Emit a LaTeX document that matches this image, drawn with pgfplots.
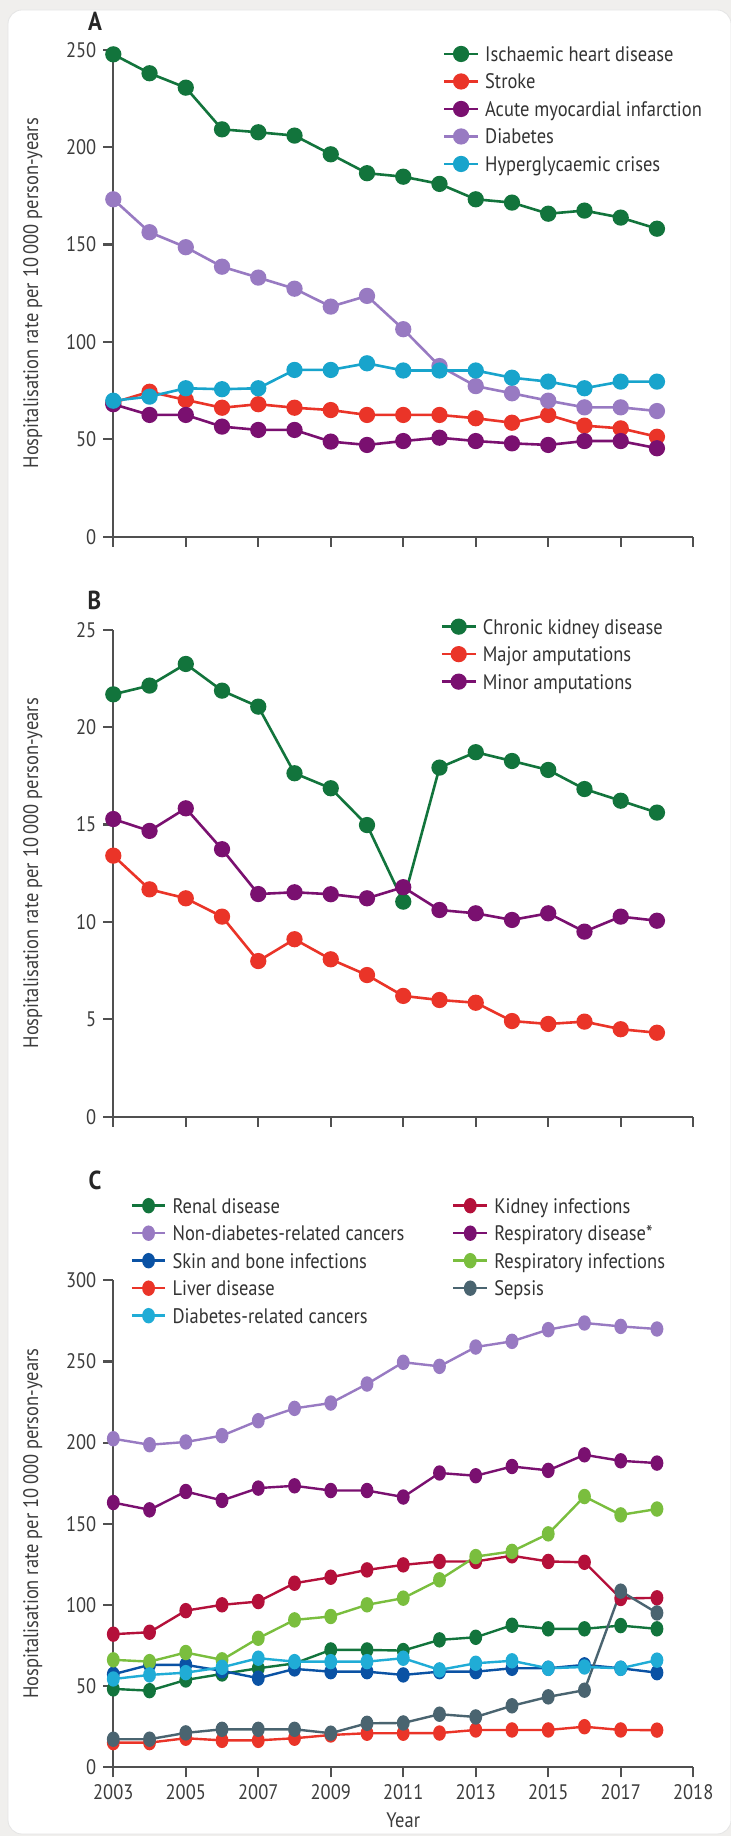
\documentclass[border=0pt]{standalone}
\usepackage{pgfplots}
\usepackage{pgfplotstable}
\pgfplotsset{compat=1.18}
\usepackage{fontspec}
\setmainfont{PT Sans}[FakeStretch=0.88]

\definecolor{bg}{RGB}{240,239,237}
\definecolor{axisgray}{RGB}{80,80,80}
\definecolor{labgray}{RGB}{60,60,60}
\definecolor{cGreen}{RGB}{18,116,60}
\definecolor{cRed}{RGB}{234,52,40}
\definecolor{cPurple}{RGB}{122,16,112}
\definecolor{cLav}{RGB}{152,122,194}
\definecolor{cCyan}{RGB}{24,164,204}
\definecolor{cBlue}{RGB}{10,82,164}
\definecolor{cCyan2}{RGB}{32,172,214}
\definecolor{cCrimson}{RGB}{180,16,58}
\definecolor{cLGreen}{RGB}{122,190,62}
\definecolor{cSlate}{RGB}{74,100,112}

\pgfplotstableread{
year ihd stroke ami diab hyper
2003 247.6 68.8 68.0 173.2 69.8
2004 237.9 74.4 62.5 156.3 71.9
2005 230.5 70.2 62.5 148.6 76.2
2006 209.1 66.2 56.5 138.6 75.7
2007 207.6 68.0 54.8 133.0 76.2
2008 205.9 66.2 54.8 127.3 85.6
2009 196.3 65.0 48.8 118.1 85.6
2010 186.6 62.5 47.1 123.6 89.0
2011 184.8 62.5 49.1 106.5 85.3
2012 181.1 62.5 50.8 87.6 85.3
2013 173.2 60.8 49.1 77.3 85.3
2014 171.5 58.5 47.9 73.6 81.6
2015 165.8 62.5 47.1 69.8 79.6
2016 167.4 57.0 49.1 66.4 76.2
2017 163.8 55.6 49.1 66.4 79.6
2018 158.1 51.3 45.4 64.5 79.6
}\tabA

\pgfplotstableread{
year ckd major minor
2003 21.68 13.40 15.28
2004 22.13 11.67 14.67
2005 23.24 11.21 15.83
2006 21.87 10.27 13.73
2007 21.05 7.99 11.43
2008 17.63 9.11 11.52
2009 16.86 8.08 11.42
2010 14.97 7.27 11.21
2011 11.04 6.20 11.78
2012 17.92 5.99 10.61
2013 18.71 5.85 10.44
2014 18.26 4.91 10.10
2015 17.80 4.76 10.44
2016 16.82 4.88 9.50
2017 16.22 4.49 10.27
2018 15.61 4.31 10.06
}\tabB

\pgfplotstableread{
year renal kidney nondiab respdis skin respinf liver sepsis diabcan
2003 48.3 82.0 202.4 163.1 57.3 66.2 15.2 17.3 54.4
2004 47.2 83.2 198.7 158.6 63.1 65.1 15.2 17.3 56.9
2005 53.8 96.5 200.4 169.9 63.1 70.7 17.9 21.2 58.3
2006 57.5 100.1 204.3 164.4 59.4 66.2 16.6 23.4 61.6
2007 61.0 102.1 213.5 172.0 54.9 79.5 16.6 23.4 67.2
2008 64.0 113.4 221.1 173.4 60.6 90.8 17.9 23.4 65.1
2009 72.3 117.1 224.4 170.5 58.9 92.9 19.9 21.0 65.1
2010 72.3 121.6 236.1 170.5 58.9 100.1 21.0 27.1 65.1
2011 71.9 124.7 249.5 166.5 56.9 104.2 21.0 27.3 67.2
2012 78.5 126.8 247.0 181.3 58.9 115.5 21.1 32.7 60.0
2013 80.1 126.8 258.9 179.6 58.9 129.8 23.0 31.0 64.1
2014 87.5 130.3 262.4 185.3 61.0 133.0 23.0 37.9 65.6
2015 85.3 126.8 269.6 182.9 61.0 143.8 23.0 43.4 61.0
2016 85.3 126.3 273.7 192.5 63.1 166.8 25.0 47.5 61.8
2017 87.3 104.0 271.6 188.8 61.0 155.5 23.0 108.5 61.0
2018 85.3 104.4 270.0 187.4 58.3 159.1 22.9 95.1 66.0
}\tabC

\pgfplotsset{
  ser/.style={color=#1, line width=1.3pt, mark=*, mark size=3.4pt,
    mark options={draw=none, fill=#1}},
  serc/.style={color=#1, line width=1.2pt, mark=*, mark size=2.6pt,
    mark options={draw=none, fill=#1, yscale=1.25}},
  panel/.style={
    scale only axis, width=289.95pt, height=243.5pt,
    anchor=south west,
    xmin=2003, xmax=2019, ymin=0,
    axis x line*=bottom, axis y line*=left,
    axis line style={line width=1.1pt, color=axisgray},
    tick align=outside, major tick length=5pt,
    tick style={line width=1.1pt, color=axisgray},
    xtick={2003,2005,...,2019},
    tick label style={font=\fontsize{10.5}{12}\selectfont, text=labgray},
    /pgf/number format/assume math mode=true,
    clip=false,
    ylabel={Hospitalisation rate per 10\,000 person-years},
    ylabel style={at={(axis description cs:-0.139,0.5)}, anchor=center,
      font=\fontsize{10.5}{12}\selectfont, text=labgray},
    legend cell align=left,
    legend image code/.code={\draw[mark repeat=2,mark phase=2,##1] plot coordinates {(0pt,0pt) (8.4pt,0pt) (16.8pt,0pt)};},
    legend style={draw=none, fill=none, inner sep=0pt, outer sep=0pt,
      anchor=north west,
      font=\fontsize{10.5}{12}\selectfont, text=black!80,
      row sep=6.25pt,
      nodes={inner sep=0pt, text height=7.5pt, text depth=0pt},
      /tikz/every odd column/.append style={column sep=3pt}},
  }
}

\begin{document}
\begin{tikzpicture}
\useasboundingbox (0,0) rectangle (365.5pt,918pt);
\fill[bg] (0,0) rectangle (365.5pt,918pt);
\fill[white, draw=black!10, rounded corners=7pt] (4pt,1pt) rectangle (365.5pt,913pt);

\node[font=\fontsize{13}{15}\selectfont\bfseries, text=black!85] at (47.5pt,907.15pt) {A};
\node[font=\fontsize{13}{15}\selectfont\bfseries, text=black!85] at (47.2pt,618pt) {B};
\node[font=\fontsize{13}{15}\selectfont\bfseries, text=black!85] at (47.5pt,328pt) {C};

% Panel A
\begin{axis}[panel, at={(56.65pt,649.65pt)}, ymax=250, ytick={0,50,...,250},
  xticklabels={},
  legend style={at={(0.5685,1.0066)}}]
\addplot[ser=cGreen] table[x=year,y=ihd]{\tabA};
\addlegendentry{Ischaemic heart disease}
\addplot[ser=cRed] table[x=year,y=stroke]{\tabA};
\addlegendentry{Stroke}
\addplot[ser=cPurple] table[x=year,y=ami]{\tabA};
\addlegendentry{Acute myocardial infarction}
\addplot[ser=cLav] table[x=year,y=diab]{\tabA};
\addlegendentry{Diabetes}
\addplot[ser=cCyan] table[x=year,y=hyper]{\tabA};
\addlegendentry{Hyperglycaemic crises}
\end{axis}

% Panel B
\begin{axis}[panel, at={(56.65pt,359.65pt)}, ymax=25, ytick={0,5,...,25},
  xticklabels={},
  legend style={at={(0.5644,1.0216)}}]
\addplot[ser=cGreen] table[x=year,y=ckd]{\tabB};
\addlegendentry{Chronic kidney disease}
\addplot[ser=cRed] table[x=year,y=major]{\tabB};
\addlegendentry{Major amputations}
\addplot[ser=cPurple] table[x=year,y=minor]{\tabB};
\addlegendentry{Minor amputations}
\end{axis}

% Panel C
\begin{axis}[panel, at={(56.65pt,34.35pt)}, ymax=300, ytick={0,50,...,300},
  xticklabels={2003,2005,2007,2009,2011,2013,2015,2017,2018},
  xlabel={Year},
  xlabel style={at={(axis description cs:0.5,-0.092)}, anchor=north, inner sep=0pt,
    font=\fontsize{10.5}{12}\selectfont, text=labgray},
  legend columns=2,
  legend style={at={(0.0298,1.1686)}}]
\addplot[serc=cGreen] table[x=year,y=renal]{\tabC};
\addlegendentry{\makebox[139.85pt][l]{Renal disease}}
\addplot[serc=cCrimson] table[x=year,y=kidney]{\tabC};
\addlegendentry{Kidney infections}
\addplot[serc=cLav] table[x=year,y=nondiab]{\tabC};
\addlegendentry{\makebox[139.85pt][l]{Non-diabetes-related cancers}}
\addplot[serc=cPurple] table[x=year,y=respdis]{\tabC};
\addlegendentry{Respiratory disease*}
\addplot[serc=cBlue] table[x=year,y=skin]{\tabC};
\addlegendentry{\makebox[139.85pt][l]{Skin and bone infections}}
\addplot[serc=cLGreen] table[x=year,y=respinf]{\tabC};
\addlegendentry{Respiratory infections}
\addplot[serc=cRed] table[x=year,y=liver]{\tabC};
\addlegendentry{\makebox[139.85pt][l]{Liver disease}}
\addplot[serc=cSlate] table[x=year,y=sepsis]{\tabC};
\addlegendentry{Sepsis}
\addplot[serc=cCyan2] table[x=year,y=diabcan]{\tabC};
\addlegendentry{\makebox[139.85pt][l]{Diabetes-related cancers}}
\end{axis}
\end{tikzpicture}
\end{document}
